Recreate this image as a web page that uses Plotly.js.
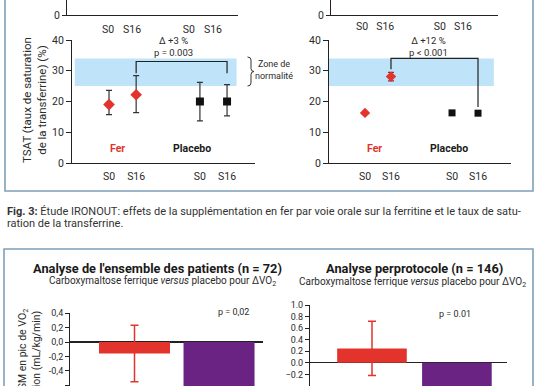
<!DOCTYPE html>
<html><head><meta charset="utf-8">
<script src="https://cdn.plot.ly/plotly-3.0.1.min.js"></script>
<style>html,body{margin:0;padding:0;background:#fff}#chart{width:536px;height:386px}</style>
</head><body><div id="chart"></div>
<script>
// ---------- data ----------
const timeLabels = ['S0', 'S16'];
const groupLabels = ['Fer', 'Placebo'];
// IRONOUT (left): TSAT %
const ironoutFer = [19.0, 22.2];
const ironoutFerHi = [23.6, 28.4];
const ironoutFerLo = [15.7, 16.4];
const ironoutPla = [20.0, 20.0];
const ironoutPlaHi = [26.2, 25.5];
const ironoutPlaLo = [13.7, 15.3];
// second study (right): TSAT %
const ivFer = [16.3, 28.1];
const ivFerErr = [0, 1.4];
const ivPla = [16.3, 16.2];
const normZone = [25, 34];
const deltaTexts = ['Δ +3 %<br>p = 0.003', 'Δ +12 %<br>p < 0.001'];
// change in peak VO2 (mL/kg/min)
const vo2Groups = ['Carboxymaltose ferrique', 'Placebo'];
const vo2All = [-0.16, -1.19];
const vo2AllSE = [0.39, 0.39];
const vo2PP = [0.25, -0.71];
const vo2PPSE = [0.47, 0.47];
const pTexts = ['p = 0,02', 'p = 0.01'];
const vo2AllTicks = [-0.6, -0.4, -0.2, 0, 0.2, 0.4];
const vo2AllTickText = ['-0,6', '-0,4', '-0,2', '0,0', '0,2', '0,4'];
const vo2PPTicks = [-0.4, -0.2, 0, 0.2, 0.4, 0.6, 0.8, 1.0];
const tsatTicks = [0, 10, 20, 30, 40];
const topPanelZero = '0';

// ---------- helpers ----------
const W = 536, H = 386;
const px = x => x / W;
const py = y => 1 - y / H;
const xOf = (g, t) => 1 + t + g * 3.35;
const FONT = 'Roboto, sans-serif';
const TXT = '#2b2b2b';
const RED = '#e2342d';
const BORDER = '#7f9fb8';

const tickPos = [xOf(0,0), xOf(0,1), xOf(1,0), xOf(1,1)];
const tickTxt = [timeLabels[0], timeLabels[1], timeLabels[0], timeLabels[1]];

function diff(a, b) { return a.map((v, i) => v - b[i]); }

const traces = [
  {type:'scatter', mode:'markers', xaxis:'x3', yaxis:'y3', name:groupLabels[0],
   x:[xOf(0,0), xOf(0,1)], y:ironoutFer,
   marker:{symbol:'diamond', size:9, color:RED},
   error_y:{type:'data', symmetric:false, array:diff(ironoutFerHi, ironoutFer), arrayminus:diff(ironoutFer, ironoutFerLo), color:'#333', thickness:1.2, width:3}},
  {type:'scatter', mode:'markers', xaxis:'x3', yaxis:'y3', name:groupLabels[1],
   x:[xOf(1,0), xOf(1,1)], y:ironoutPla,
   marker:{symbol:'square', size:8, color:'#111'},
   error_y:{type:'data', symmetric:false, array:diff(ironoutPlaHi, ironoutPla), arrayminus:diff(ironoutPla, ironoutPlaLo), color:'#333', thickness:1.2, width:3}},
  {type:'scatter', mode:'markers', xaxis:'x4', yaxis:'y4', name:groupLabels[0],
   x:[xOf(0,0), xOf(0,1)], y:ivFer,
   marker:{symbol:'diamond', size:8, color:RED},
   error_y:{type:'data', array:ivFerErr, color:'#9a2a2a', thickness:1.2, width:3}},
  {type:'scatter', mode:'markers', xaxis:'x4', yaxis:'y4', name:groupLabels[1],
   x:[xOf(1,0), xOf(1,1)], y:ivPla,
   marker:{symbol:'square', size:7, color:'#111'}},
  {type:'bar', xaxis:'x5', yaxis:'y5', x:[0, 1], y:vo2All, width:0.84,
   text:vo2Groups, textposition:'none', hoverinfo:'y',
   marker:{color:[RED, '#6a2383']},
   error_y:{type:'data', array:[vo2AllSE[0], 0], color:RED, thickness:1.5, width:4}},
  {type:'bar', xaxis:'x6', yaxis:'y6', x:[0, 1], y:vo2PP, width:0.82,
   text:vo2Groups, textposition:'none', hoverinfo:'y',
   marker:{color:[RED, '#6a2383']},
   error_y:{type:'data', array:[vo2PPSE[0], 0], color:RED, thickness:1.5, width:4}},
  {type:'scatter', mode:'markers', xaxis:'x', yaxis:'y', x:[1], y:[-5], marker:{opacity:0}, hoverinfo:'skip'},
  {type:'scatter', mode:'markers', xaxis:'x2', yaxis:'y2', x:[1], y:[-5], marker:{opacity:0}, hoverinfo:'skip'}
];

const axBase = {showgrid:false, zeroline:false, linecolor:'#222', linewidth:1, tickcolor:'#222',
  tickfont:{family:FONT, size:10.5, color:TXT}, fixedrange:true};
const xLab = (len) => ({ticks:'outside', ticklen:len, tickcolor:'rgba(0,0,0,0)', tickvals:tickPos, ticktext:tickTxt});

const layout = {
  width:W, height:H, margin:{l:0, r:0, t:0, b:0}, paper_bgcolor:'#fff', plot_bgcolor:'rgba(0,0,0,0)',
  showlegend:false, font:{family:FONT, color:TXT},
  xaxis: Object.assign({}, axBase, xLab(4), {domain:[px(67), px(238)], range:[-0.70, 6.39], showline:true, anchor:'y'}),
  yaxis: Object.assign({}, axBase, {domain:[py(15), 1], range:[0, 10], showline:true, ticks:'outside', ticklen:4, tickvals:[0], showticklabels:false, anchor:'x'}),
  xaxis2: Object.assign({}, axBase, xLab(1), {domain:[px(331), px(498)], range:[-0.336, 6.86], showline:true, anchor:'y2'}),
  yaxis2: Object.assign({}, axBase, {domain:[py(15), 1], range:[0, 10], showline:true, ticks:'outside', ticklen:4, tickvals:[0], showticklabels:false, anchor:'x2'}),
  xaxis3: Object.assign({}, axBase, xLab(3), {domain:[px(72), px(255)], range:[-0.364, 6.38], showline:true, anchor:'y3'}),
  yaxis3: Object.assign({}, axBase, {domain:[py(163), py(40)], range:[0, 40], showline:true, ticks:'outside', ticklen:5, tickvals:tsatTicks, anchor:'x3'}),
  xaxis4: Object.assign({}, axBase, xLab(3), {domain:[px(329), px(511)], range:[-0.386, 6.62], showline:true, anchor:'y4'}),
  yaxis4: Object.assign({}, axBase, {domain:[py(163), py(40)], range:[0, 40], showline:true, ticks:'outside', ticklen:5, tickvals:tsatTicks, anchor:'x4'}),
  xaxis5: Object.assign({}, axBase, {domain:[px(70), px(263)], range:[-0.763, 1.52], showline:false, showticklabels:false, anchor:'y5'}),
  yaxis5: Object.assign({}, axBase, {domain:[0, py(313)], range:[-0.607, 0.4], showline:true, ticks:'outside', ticklen:4,
     tickvals:vo2AllTicks, ticktext:vo2AllTickText, tickfont:{family:FONT, size:9, color:TXT}, zeroline:true, zerolinecolor:'#222', zerolinewidth:1.2, anchor:'x5'}),
  xaxis6: Object.assign({}, axBase, {domain:[px(310), px(507)], range:[-0.73, 1.59], showline:false, showticklabels:false, anchor:'y6'}),
  yaxis6: Object.assign({}, axBase, {domain:[0, py(305)], range:[-0.4, 1.0], showline:true, ticks:'outside', ticklen:4,
     tickvals:vo2PPTicks, tickformat:'.1f', tickfont:{family:FONT, size:9, color:TXT}, zeroline:true, zerolinecolor:'#222', zerolinewidth:1.2, anchor:'x6'}),
  shapes: [],
  annotations: []
};

const S = layout.shapes, A = layout.annotations;
S.push({type:'rect', xref:'paper', yref:'paper', x0:px(5), x1:px(533), y0:py(191), y1:py(-20), line:{color:BORDER, width:1.6}, layer:'below'});
S.push({type:'rect', xref:'paper', yref:'paper', x0:px(4), x1:px(533), y0:py(420), y1:py(249), line:{color:BORDER, width:1.6}, layer:'below'});
S.push({type:'rect', xref:'x3', yref:'y3', x0:-0.26, x1:5.7, y0:normZone[0], y1:normZone[1], fillcolor:'#bfe3f8', line:{width:0}, layer:'below'});
S.push({type:'rect', xref:'x4', yref:'y4', x0:-0.386, x1:5.96, y0:normZone[0], y1:normZone[1], fillcolor:'#bfe3f8', line:{width:0}, layer:'below'});
const br1Top = normZone[1] - 1, br1Leg = ironoutFerHi[1] + 0.8;
S.push({type:'path', xref:'x3', yref:'y3', path:`M ${xOf(0,1)} ${br1Leg} L ${xOf(0,1)} ${br1Top} L ${xOf(1,1)} ${br1Top} L ${xOf(1,1)} ${br1Leg}`, line:{color:'#222', width:1.2}});
const br2Top = normZone[1], br2LegL = ivFer[1] + ivFerErr[1] + 1, br2LegR = ivPla[1] + 2;
S.push({type:'path', xref:'x4', yref:'y4', path:`M ${xOf(0,1)} ${br2LegL} L ${xOf(0,1)} ${br2Top} L ${xOf(1,1)} ${br2Top} L ${xOf(1,1)} ${br2LegR}`, line:{color:'#222', width:1.2}});
(function(){
  const x0 = 247.5, xm = 251, xt = 254, yt = 57, yb = 86, ym = (yt+yb)/2;
  const P = (x, y) => `${px(x)} ${py(y)}`;
  const path = `M ${P(x0,yt)} Q ${P(xm,yt)} ${P(xm,yt+3)} L ${P(xm,ym-3)} Q ${P(xm,ym)} ${P(xt,ym)} Q ${P(xm,ym)} ${P(xm,ym+3)} L ${P(xm,yb-3)} Q ${P(xm,yb)} ${P(x0,yb)}`;
  S.push({type:'path', xref:'paper', yref:'paper', path:path, line:{color:'#333', width:1}});
})();

function ann(o) { A.push(Object.assign({showarrow:false, xanchor:'center', yanchor:'middle', font:{family:FONT, size:10, color:TXT}}, o)); }
// "0" labels of the cut-off upper panels
ann({xref:'paper', yref:'paper', x:px(62), y:py(15), xanchor:'right', text:topPanelZero, font:{family:FONT, size:10.5, color:TXT}});
ann({xref:'paper', yref:'paper', x:px(326), y:py(15), xanchor:'right', text:topPanelZero, font:{family:FONT, size:10.5, color:TXT}});
ann({xref:'paper', yref:'paper', x:px(34), y:py(100), textangle:-90, text:'TSAT (taux de saturation<br>de la transferrine) (%)', font:{family:FONT, size:11.5, color:TXT}});
ann({xref:'x3', yref:'y3', x:3.37, y:38.0, text:deltaTexts[0], font:{family:FONT, size:9.5, color:TXT}});
ann({xref:'x4', yref:'y4', x:3.46, y:38.0, text:deltaTexts[1], font:{family:FONT, size:9.5, color:TXT}});
ann({xref:'x3', yref:'y3', x:1.33, y:4.6, text:'<b>'+groupLabels[0]+'</b>', font:{family:FONT, size:10.5, color:RED}});
ann({xref:'x3', yref:'y3', x:4.07, y:4.6, text:'<b>'+groupLabels[1]+'</b>', font:{family:FONT, size:10.5, color:'#1a1a1a'}});
ann({xref:'x4', yref:'y4', x:1.38, y:4.6, text:'<b>'+groupLabels[0]+'</b>', font:{family:FONT, size:10.5, color:RED}});
ann({xref:'x4', yref:'y4', x:4.23, y:4.6, text:'<b>'+groupLabels[1]+'</b>', font:{family:FONT, size:10.5, color:'#1a1a1a'}});
ann({xref:'paper', yref:'paper', x:px(274), y:py(70), text:'Zone de<br>normalité', font:{family:FONT, size:9, color:TXT}});
ann({xref:'paper', yref:'paper', x:px(5), y:py(211), xanchor:'left', text:'<b>Fig. 3:</b> Étude IRONOUT: effets de la supplémentation en fer par voie orale sur la ferritine et le taux de satu-', font:{family:FONT, size:11, color:'#333'}});
ann({xref:'paper', yref:'paper', x:px(5), y:py(223), xanchor:'left', text:'ration de la transferrine.', font:{family:FONT, size:11, color:'#333'}});
ann({xref:'paper', yref:'paper', x:px(157), y:py(268), text:"<b>Analyse de l'ensemble des patients (n = 72)</b>", font:{family:FONT, size:12.8, color:'#1a1a1a'}});
ann({xref:'paper', yref:'paper', x:px(414), y:py(268), text:'<b>Analyse perprotocole (n = 146)</b>', font:{family:FONT, size:12.8, color:'#1a1a1a'}});
ann({xref:'paper', yref:'paper', x:px(162), y:py(281), text:'Carboxymaltose ferrique <i>versus</i> placebo pour ΔVO<sub>2</sub>', font:{family:FONT, size:10, color:TXT}});
ann({xref:'paper', yref:'paper', x:px(412), y:py(282), text:'Carboxymaltose ferrique <i>versus</i> placebo pour ΔVO<sub>2</sub>', font:{family:FONT, size:10, color:TXT}});
ann({xref:'paper', yref:'paper', x:px(233), y:py(312), text:pTexts[0], font:{family:FONT, size:9, color:TXT}});
ann({xref:'paper', yref:'paper', x:px(455), y:py(314), text:pTexts[1], font:{family:FONT, size:9, color:TXT}});
ann({xref:'paper', yref:'paper', x:px(23), y:py(307), yanchor:'top', textangle:-90, text:'Δ LSM en pic de VO<sub>2</sub>', font:{family:FONT, size:10.5, color:TXT}});
ann({xref:'paper', yref:'paper', x:px(36), y:py(309), yanchor:'top', textangle:-90, text:"depuis l'inclusion (mL/kg/min)", font:{family:FONT, size:10.5, color:TXT}});

Plotly.newPlot('chart', traces, layout, {staticPlot:true, displayModeBar:false});
</script></body></html>
